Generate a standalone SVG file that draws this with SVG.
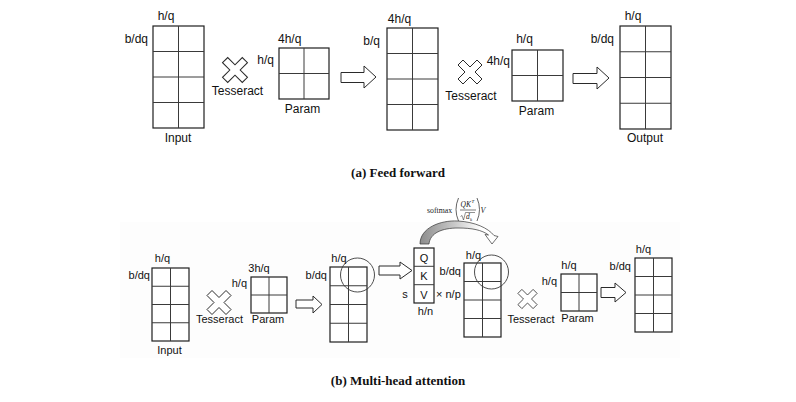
<svg xmlns="http://www.w3.org/2000/svg" width="796" height="402" viewBox="0 0 796 402">
  <style>
    .box { fill: #fff; stroke: #1e1e1e; stroke-width: 1.2; }
    .ln { stroke: #3a3a3a; stroke-width: 1; fill: none; }
    .blk { fill: #fff; stroke: #2a2a2a; stroke-width: 1; stroke-linejoin: miter; }
    .ring { fill: none; stroke: #3a3a3a; stroke-width: 0.9; }
    .t { font-family: "Liberation Sans", Arial, sans-serif; font-size: 12px; fill: #111; }
    .ts { font-family: "Liberation Sans", Arial, sans-serif; font-size: 11px; fill: #111; }
    .mid { text-anchor: middle; }
    .end { text-anchor: end; }
    .cap { font-family: "Liberation Serif", "Times New Roman", serif; font-weight: bold; font-size: 13px; fill: #111; text-anchor: middle; }
    .mth { font-family: "Liberation Serif", "Times New Roman", serif; fill: #222; }
  </style>
  <defs>
    <!-- multiply sign used for the Tesseract product -->
    <path id="times" d="M-12,-7 L-7,-12 L0,-5 L7,-12 L12,-7 L5,0 L12,7 L7,12 L0,5 L-7,12 L-12,7 L-5,0 Z"/>
    <linearGradient id="bend" gradientUnits="userSpaceOnUse" x1="420" y1="0" x2="496" y2="0">
      <stop offset="0" stop-color="#8c8c8c"/>
      <stop offset="0.45" stop-color="#c8c8c8"/>
      <stop offset="0.8" stop-color="#ffffff"/>
      <stop offset="1" stop-color="#ffffff"/>
    </linearGradient>
  </defs>

  <rect width="796" height="402" fill="#fff"/>
  <rect x="120" y="222" width="560" height="136" fill="#fdfdfd"/>

  <!-- ===== (a) Feed forward ===== -->
  <g id="ff-input">
    <rect class="box" x="153" y="26" width="51" height="102"/>
    <path class="ln" d="M178.5,26 V128 M153,51.5 H204 M153,77 H204 M153,102.5 H204"/>
    <text class="t mid" x="166" y="20">h/q</text>
    <text class="t end" x="148" y="43">b/dq</text>
    <text class="t mid" x="178" y="142">Input</text>
  </g>
  <g id="ff-tesseract-1">
    <use href="#times" class="blk" transform="translate(235,70) scale(1.04)"/>
    <text class="t mid" x="237.5" y="95">Tesseract</text>
  </g>
  <g id="ff-param-1">
    <rect class="box" x="279" y="48" width="50" height="51"/>
    <path class="ln" d="M304,48 V99 M279,73.5 H329"/>
    <text class="t" x="278" y="42.5">4h/q</text>
    <text class="t end" x="274" y="64">h/q</text>
    <text class="t mid" x="302.5" y="113">Param</text>
  </g>
  <g id="ff-hidden">
    <rect class="box" x="387" y="28" width="51" height="102"/>
    <path class="ln" d="M412.5,28 V130 M387,53.5 H438 M387,79 H438 M387,104.5 H438"/>
    <text class="t mid" x="399.5" y="22.5">4h/q</text>
    <text class="t end" x="380" y="45">b/q</text>
  </g>
  <g id="ff-tesseract-2">
    <use href="#times" class="blk" transform="translate(470,72) scale(1.0)"/>
    <text class="t mid" x="471" y="100">Tesseract</text>
  </g>
  <g id="ff-param-2">
    <rect class="box" x="512" y="50" width="51" height="51"/>
    <path class="ln" d="M537.5,50 V101 M512,75.5 H563"/>
    <text class="t mid" x="524.5" y="43">h/q</text>
    <text class="t end" x="510" y="65">4h/q</text>
    <text class="t mid" x="536.5" y="115">Param</text>
  </g>
  <g id="ff-output">
    <rect class="box" x="620" y="26" width="51" height="103"/>
    <path class="ln" d="M645.5,26 V129 M620,51.75 H671 M620,77.5 H671 M620,103.25 H671"/>
    <text class="t mid" x="633" y="20">h/q</text>
    <text class="t end" x="614" y="43">b/dq</text>
    <text class="t mid" x="645" y="142">Output</text>
  </g>
  <text class="cap" x="398" y="177">(a) Feed forward</text>

  <!-- ===== (b) Multi-head attention ===== -->
  <g id="mh-input">
    <rect class="box" x="152" y="268" width="37" height="73"/>
    <path class="ln" d="M170.5,268 V341 M152,286.25 H189 M152,304.5 H189 M152,322.75 H189"/>
    <text class="ts mid" x="162.5" y="261.5">h/q</text>
    <text class="ts end" x="150" y="279">b/dq</text>
    <text class="ts mid" x="169.5" y="354">Input</text>
  </g>
  <g id="mh-tesseract-1">
    <use href="#times" class="blk" transform="translate(219,302.5)"/>
    <text class="ts mid" x="219.5" y="323">Tesseract</text>
  </g>
  <g id="mh-param-1">
    <rect class="box" x="251" y="277" width="36" height="36"/>
    <path class="ln" d="M269,277 V313 M251,295 H287"/>
    <text class="ts mid" x="259" y="271.5">3h/q</text>
    <text class="ts end" x="247" y="287">h/q</text>
    <text class="ts mid" x="268" y="323">Param</text>
  </g>
  <g id="mh-qkv-proj">
    <rect class="box" x="330" y="267" width="37" height="75"/>
    <path class="ln" d="M348.5,267 V342 M330,285.75 H367 M330,304.5 H367 M330,323.25 H367"/>
    <circle class="ring" cx="357.5" cy="275" r="17"/>
    <text class="ts mid" x="339" y="261.5">h/q</text>
    <text class="ts end" x="327" y="279">b/dq</text>
  </g>
  <g id="mh-head">
    <rect class="box" x="414" y="248" width="20" height="55"/>
    <path class="ln" d="M414,266.3 H434 M414,284.7 H434"/>
    <text class="ts mid" x="424" y="262">Q</text>
    <text class="ts mid" x="424" y="280">K</text>
    <text class="ts mid" x="424" y="298.5">V</text>
    <text class="ts mid" x="405" y="298">s</text>
    <text class="ts" x="436" y="298">× n/p</text>
    <text class="ts mid" x="425.5" y="315">h/n</text>
  </g>
  <g id="mh-softmax">
    <text class="mth" x="427" y="212.5" font-size="7.8">softmax</text>
    <path d="M458.5,198 Q453.5,209.5 458.5,221 M477,198 Q482,209.5 477,221" fill="none" stroke="#222" stroke-width="0.7"/>
    <text class="mth" x="460.5" y="207" font-size="7.5" font-style="italic">QK</text>
    <text class="mth" x="471.5" y="203" font-size="5" font-style="italic">T</text>
    <path d="M460,210 H476" stroke="#222" stroke-width="0.6"/>
    <path d="M460.5,216.5 L462,215.5 L463.5,220 L465.5,212.5 H475" fill="none" stroke="#222" stroke-width="0.5"/>
    <text class="mth" x="466" y="219" font-size="7.5" font-style="italic">d</text>
    <text class="mth" x="470" y="220.5" font-size="4.8" font-style="italic">k</text>
    <text class="mth" x="480.5" y="212.5" font-size="8" font-style="italic">V</text>
  </g>
  <g id="mh-attn-out">
    <rect class="box" x="464" y="263" width="37" height="74"/>
    <path class="ln" d="M482.5,263 V337 M464,281.5 H501 M464,300 H501 M464,318.5 H501"/>
    <circle class="ring" cx="491.5" cy="272" r="17"/>
    <text class="ts mid" x="473.5" y="259">h/q</text>
    <text class="ts end" x="461" y="275">b/dq</text>
  </g>
  <g id="mh-tesseract-2">
    <use href="#times" class="blk" transform="translate(527.5,299) scale(0.8)"/>
    <text class="ts mid" x="531" y="323">Tesseract</text>
  </g>
  <g id="mh-param-2">
    <rect class="box" x="561" y="274" width="36" height="37"/>
    <path class="ln" d="M579,274 V311 M561,292.5 H597"/>
    <text class="ts mid" x="569" y="269">h/q</text>
    <text class="ts end" x="557" y="285">h/q</text>
    <text class="ts mid" x="577.5" y="322">Param</text>
  </g>
  <g id="mh-output">
    <rect class="box" x="635" y="258" width="37" height="74"/>
    <path class="ln" d="M653.5,258 V332 M635,276.5 H672 M635,295 H672 M635,313.5 H672"/>
    <text class="ts mid" x="643.5" y="253">h/q</text>
    <text class="ts end" x="631" y="270">b/dq</text>
  </g>
  <text class="cap" x="398" y="385">(b) Multi-head attention</text>

  <!-- connectors: hollow block arrows and the curved attention arrow -->
  <g id="connectors">
    <path class="blk" d="M341,72.5 H364 V66 L376,77 L364,88 V82.5 H341 Z"/>
    <path class="blk" d="M573,73.5 H597 V67 L609,78 L597,89 V83.5 H573 Z"/>
    <path class="blk" d="M296,300 H313 V296 L322,304.5 L313,313 V308 H296 Z"/>
    <path class="blk" d="M379,266 H400 V262 L412,270.5 L400,279 V275 H379 Z"/>
    <path class="blk" d="M601,287.5 H615 V283 L626,292.5 L615,302 V297.5 H601 Z"/>
    <path d="M420,244 C420,228 440,220 458,221 C475,222 488,228 494,235.5 L498,236.5 L492,244 L485,234.5 L488.5,235 C482,230 472,228 458,228 C442,228 430,233 429,244 Z" fill="url(#bend)" stroke="#333" stroke-width="0.7" stroke-linejoin="round"/>
  </g>
</svg>
